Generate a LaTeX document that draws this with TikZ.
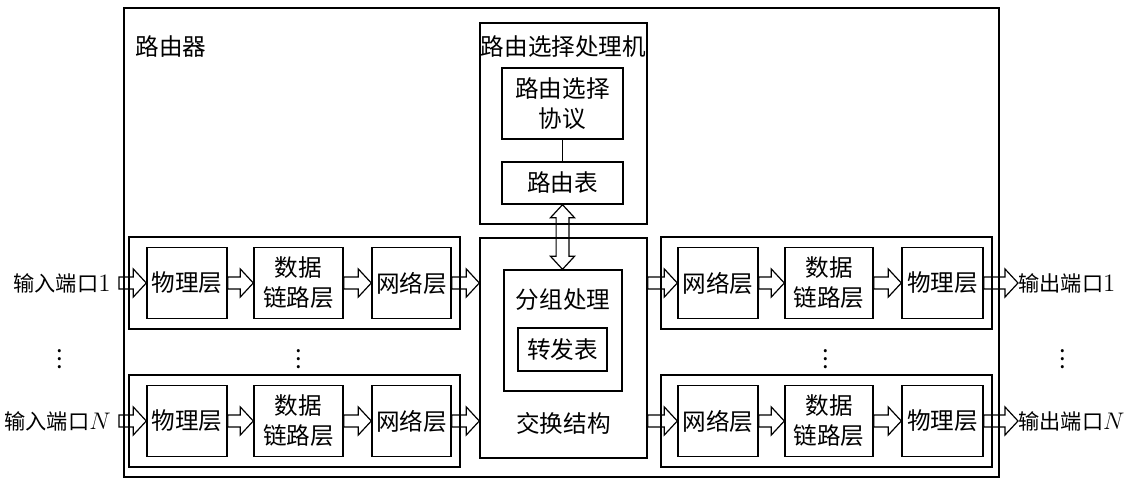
\documentclass[tikz,border=0pt]{standalone}
\usepackage{fontspec}
\usepackage{amsmath}
\newfontfamily\cjk{Noto Sans CJK SC}
\usetikzlibrary{calc}

% hollow arrow, left to right
\newcommand{\rarrow}[2]{%
  \draw[fat] let \p1=(#1), \p2=(#2) in
    (\x1,\y1+3pt) -- (\x2-6.5pt,\y1+3pt) -- (\x2-6.5pt,\y1+7pt) -- (\x2,\y1)
    -- (\x2-6.5pt,\y1-7pt) -- (\x2-6.5pt,\y1-3pt) -- (\x1,\y1-3pt) -- cycle;}
% hollow double arrow, top to bottom
\newcommand{\udarrow}[2]{%
  \draw[fat] let \p1=(#1), \p2=(#2) in
    (\x1,\y1) -- (\x1+6pt,\y1-6.5pt) -- (\x1+3.2pt,\y1-6.5pt) -- (\x1+3.2pt,\y2+6.5pt)
    -- (\x1+6pt,\y2+6.5pt) -- (\x1,\y2) -- (\x1-6pt,\y2+6.5pt) -- (\x1-3.2pt,\y2+6.5pt)
    -- (\x1-3.2pt,\y1-6.5pt) -- (\x1-6pt,\y1-6.5pt) -- cycle;}
\newcommand{\latin}[1]{{\normalfont\fontsize{12.5}{15}\selectfont #1}}

\begin{document}
\begin{tikzpicture}[x=0.5pt, y=-0.5pt,
  every node/.style={font=\cjk\fontsize{11.8}{15}\selectfont, inner sep=0pt},
  box/.style={draw, rectangle, line width=0.7pt, align=center},
  port/.style={font=\cjk\fontsize{10.6}{14}\selectfont},
  fat/.style={draw, line width=0.6pt, line join=miter}]

\useasboundingbox (0,0) rectangle (1129,485);

% Router
\node[box, line width=1pt, minimum width=437.5pt, minimum height=234.5pt] (router) at (561.5,242.5) {};
\node[anchor=west] (routerlbl) at (135,47) {路由器};

% Routing processor
\node[box, minimum width=83.5pt, minimum height=100.5pt] (rp) at (563.5,123.5) {};
\node (rplbl) at (563.5,47) {路由选择处理机};
\node[box, minimum width=60.5pt, minimum height=35.5pt] (proto) at (562.5,103.5) {路由选择\\协议};
\node[box, minimum width=60.5pt, minimum height=21pt] (rtable) at (562.5,183) {路由表};
\draw[line width=0.7pt] (proto) -- (rtable);

% Switch fabric
\node[box, minimum width=83.5pt, minimum height=110pt] (fabric) at (563.5,348) {};
\node (fabriclbl) at (563.5,423) {交换结构};
\node[box, minimum width=59pt, minimum height=60.5pt] (pp) at (563,330.5) {};
\node (pplbl) at (563,300) {分组处理};
\node[box, minimum width=44.5pt, minimum height=21.5pt] (ftable) at (562.5,349.5) {转发表};
\udarrow{rtable.south}{pp.north}

% Line cards
\foreach \r/\y/\lbl in {1/283/1, N/421/$N$} {
  % input side
  \node[box, minimum width=165.5pt, minimum height=46pt] (gin\r) at (294.5,\y) {};
  \node[box, minimum width=40pt, minimum height=35.5pt] (phys\r) at (187,\y) {物理层};
  \node[box, minimum width=44.5pt, minimum height=35.5pt] (dl\r) at (298.5,\y) {数据\\链路层};
  \node[box, minimum width=39.5pt, minimum height=35.5pt] (net\r) at (411.5,\y) {网络层};
  \node[port, anchor=east, inner xsep=4pt] (in\r) at (119,\y) {输入端口\latin{\lbl}};
  \rarrow{in\r.east}{phys\r.west}
  \rarrow{phys\r.east}{dl\r.west}
  \rarrow{dl\r.east}{net\r.west}
  \rarrow{net\r.east}{fabric.west |- net\r.east}
  % output side
  \node[box, minimum width=165.5pt, minimum height=46pt] (gout\r) at (826.5,\y) {};
  \node[box, minimum width=40pt, minimum height=35.5pt] (onet\r) at (718,\y) {网络层};
  \node[box, minimum width=44pt, minimum height=35.5pt] (odl\r) at (829,\y) {数据\\链路层};
  \node[box, minimum width=40.5pt, minimum height=35.5pt] (ophys\r) at (942.5,\y) {物理层};
  \node[port, anchor=west] (out\r) at (1018,\y) {输出端口\latin{\lbl}};
  \rarrow{fabric.east |- onet\r.west}{onet\r.west}
  \rarrow{onet\r.east}{odl\r.west}
  \rarrow{odl\r.east}{ophys\r.west}
  \rarrow{ophys\r.east}{out\r.west}
}

% Dots
\node (dots1) at (60,353) {$\vdots$};
\node (dots2) at (299,353) {$\vdots$};
\node (dots3) at (826,353) {$\vdots$};
\node (dots4) at (1063,353) {$\vdots$};

\end{tikzpicture}
\end{document}
